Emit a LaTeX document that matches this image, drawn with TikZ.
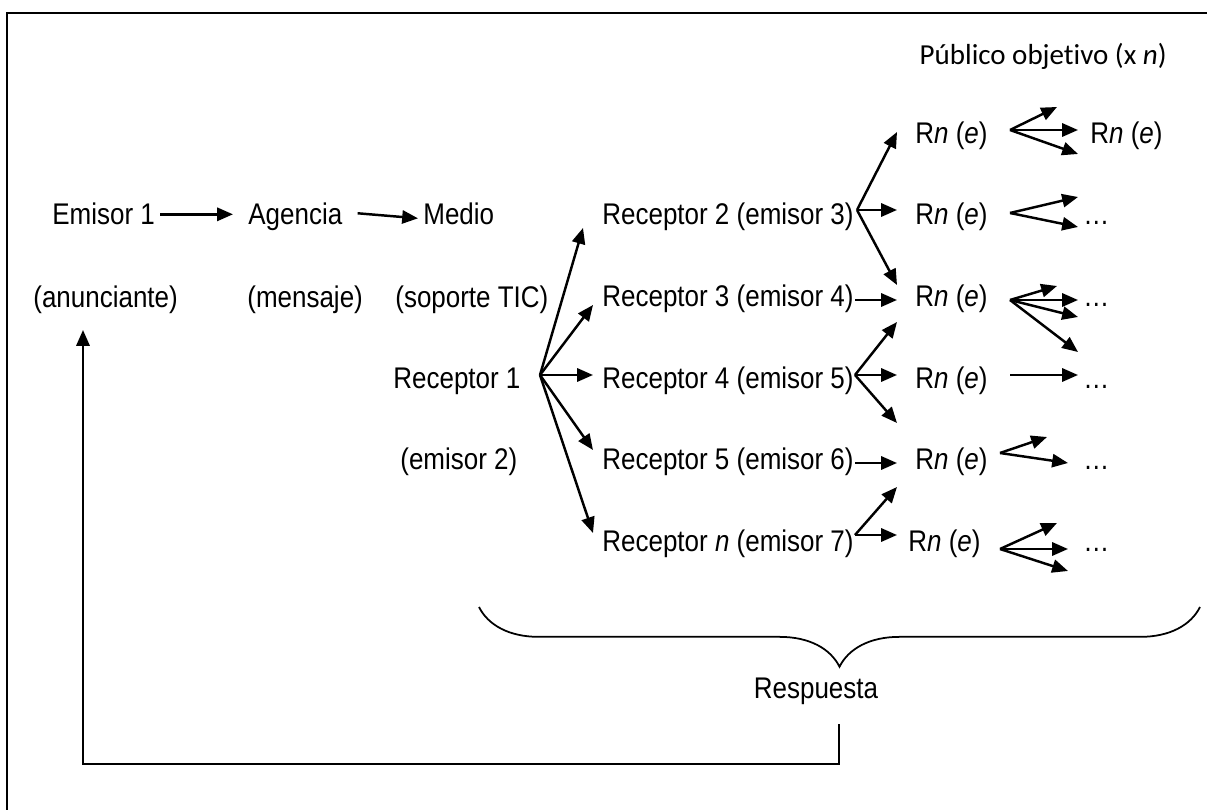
\documentclass[tikz,border=0pt]{standalone}
\usepackage{fontspec}
\setmainfont{Liberation Sans}[FakeStretch=0.87]
\newfontfamily\headfont{Carlito}[Ligatures=NoCommon]
\usetikzlibrary{arrows.meta, positioning, calc, decorations.pathreplacing}

\begin{document}
\begin{tikzpicture}[
    x=0.02cm, y=-0.02cm,
    txt/.style={anchor=base west, inner sep=0pt, font=\fontsize{17}{20}\selectfont},
    arrow/.style={-{Triangle[length=9pt, width=7.5pt]}, line width=1.4pt},
    frame/.style={line width=1.2pt}
]
\useasboundingbox (0,0) rectangle (1207,810);
\draw[frame] (7,810) -- (7,13) -- (1207,13);

% heading
\node[txt, anchor=base east, font=\headfont\fontsize{16.5}{20}\selectfont] (publico) at (1167,65) {Público objetivo (x \textit{n})};

% sender, agency, medium
\node[txt] (emisor) at (52,225) {Emisor 1};
\node[txt] (agencia) at (248,225) {Agencia};
\node[txt] (medio) at (423,225) {Medio};
\node[txt] (anunciante) at (33,308) {(anunciante)};
\node[txt] (mensaje) at (247,308) {(mensaje)};
\node[txt] (soporte) at (395,308) {(soporte TIC)};
\node[txt] (rec1) at (393,389) {Receptor 1};
\node[txt] (emi2) at (400,470) {(emisor 2)};

% receivers
\node[txt] (rec2) at (602,225) {Receptor 2 (emisor 3)};
\node[txt] (rec3) at (602,307) {Receptor 3 (emisor 4)};
\node[txt] (rec4) at (602,389) {Receptor 4 (emisor 5)};
\node[txt] (rec5) at (602,470) {Receptor 5 (emisor 6)};
\node[txt] (recn) at (602,552) {Receptor \textit{n} (emisor 7)};

% target audience
\node[txt] (rn0) at (915,144) {R\textit{n} (\textit{e})};
\node[txt] (rn1) at (915,225) {R\textit{n} (\textit{e})};
\node[txt] (rn2) at (915,307) {R\textit{n} (\textit{e})};
\node[txt] (rn3) at (915,389) {R\textit{n} (\textit{e})};
\node[txt] (rn4) at (915,470) {R\textit{n} (\textit{e})};
\node[txt] (rn5) at (908,552) {R\textit{n} (\textit{e})};
\node[txt] (rn0b) at (1090,144) {R\textit{n} (\textit{e})};
\node[txt] (dots1) at (1083,225) {…};
\node[txt] (dots2) at (1083,307) {…};
\node[txt] (dots3) at (1083,389) {…};
\node[txt] (dots4) at (1083,470) {…};
\node[txt] (dots5) at (1083,552) {…};

% chain arrows
\draw[arrow] ($(emisor.east)+(5,0)$) -- ($(emisor.east -| agencia.west)+(-15,0)$);
\draw[arrow] ($(agencia.east)+(15,-4)$) -- ($(medio.west)+(-5,4)$);

% fan of receptor 1
\coordinate (fan1) at (540,375);
\draw[arrow] (fan1) -- (583,228);
\draw[arrow] (fan1) -- (593,305);
\draw[arrow] (fan1) -- (593,375);
\draw[arrow] (fan1) -- (593,450);
\draw[arrow] (fan1) -- (593,533);

% fans of the receivers
\coordinate (fan3) at (857,210);
\draw[arrow] (fan3) -- (897,132);
\draw[arrow] (fan3) -- (897,210);
\draw[arrow] (fan3) -- (897,285);
\draw[arrow] (855,300) -- (897,300);
\coordinate (fan5) at (855,375);
\draw[arrow] (fan5) -- (897,322);
\draw[arrow] (fan5) -- (897,375);
\draw[arrow] (fan5) -- (897,423);
\draw[arrow] (855,463) -- (897,463);
\coordinate (fan7) at (855,535);
\draw[arrow] (fan7) -- (897,487);
\draw[arrow] (fan7) -- (897,535);

% fans of the audience
\coordinate (aud0) at (1010,130);
\draw[arrow] (aud0) -- (1057,107);
\draw[arrow] (aud0) -- (1078,130);
\draw[arrow] (aud0) -- (1078,154);
\coordinate (aud1) at (1010,213);
\draw[arrow] (aud1) -- (1078,197);
\draw[arrow] (aud1) -- (1078,227);
\coordinate (aud2) at (1010,300);
\draw[arrow] (aud2) -- (1057,286);
\draw[arrow] (aud2) -- (1078,300);
\draw[arrow] (aud2) -- (1078,317);
\draw[arrow] (aud2) -- (1078,352);
\draw[arrow] (1010,375) -- (1078,375);
\coordinate (aud4) at (1000,453);
\draw[arrow] (aud4) -- (1047,437);
\draw[arrow] (aud4) -- (1068,463);
\coordinate (aud5) at (1000,549);
\draw[arrow] (aud5) -- (1057,523);
\draw[arrow] (aud5) -- (1068,549);
\draw[arrow] (aud5) -- (1068,571);

% response
\draw[line width=1pt, decorate, decoration={brace, mirror, amplitude=34pt}] (479,607) -- (1200,607);
\node[txt, anchor=base] (respuesta) at (816,698) {Respuesta};
\coordinate (fbstart) at (839,724);
\coordinate (fbend) at (83,330);
\draw[arrow] (fbstart) -- ++(0,40) -| (fbend);

\end{tikzpicture}
\end{document}
